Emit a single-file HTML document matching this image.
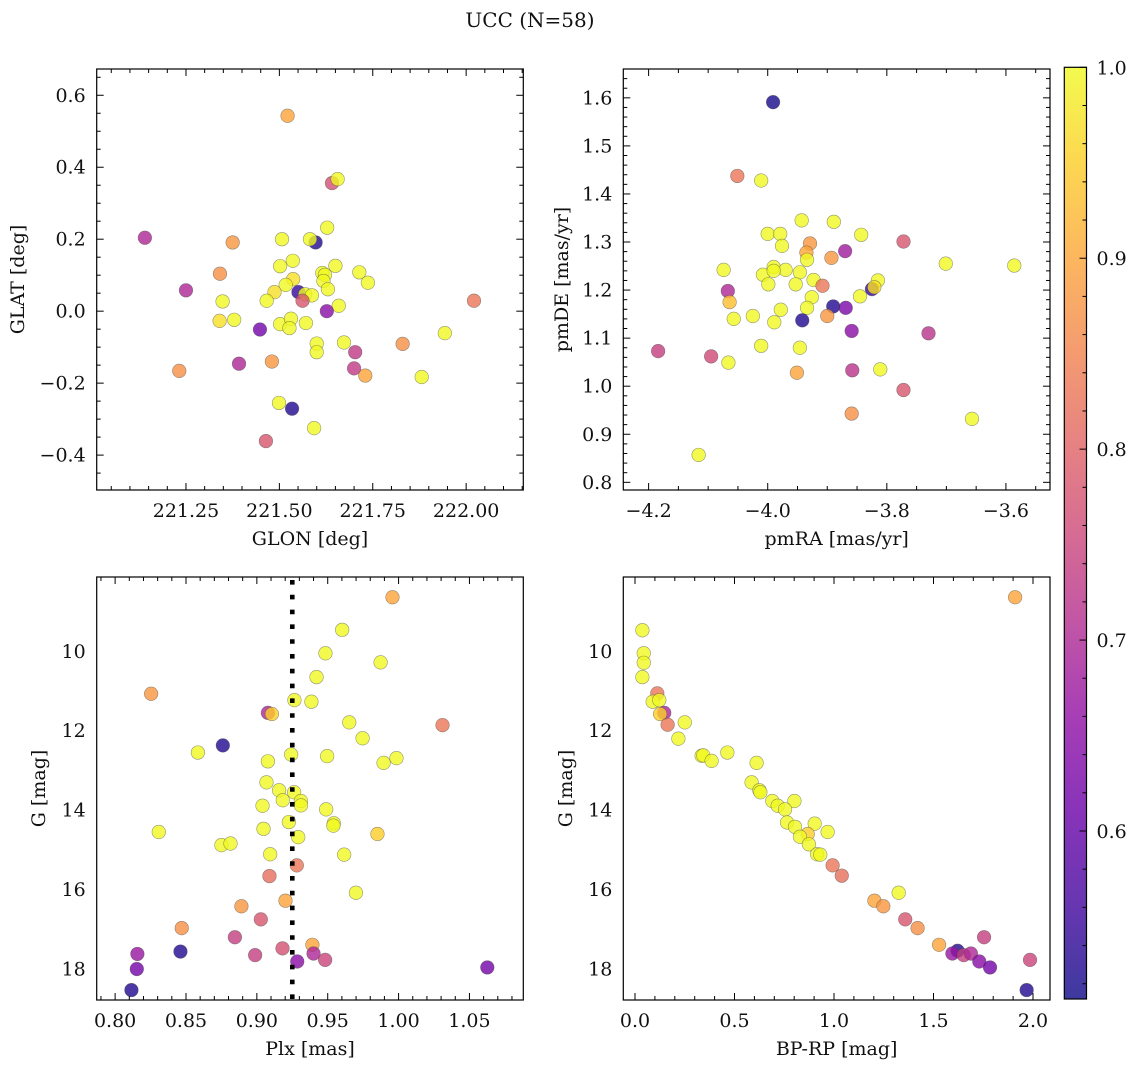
<!DOCTYPE html>
<html><head><meta charset="utf-8"><style>
html,body{margin:0;padding:0;background:#fff}
svg{display:block}
text{font-family:"DejaVu Serif","Liberation Serif",serif;fill:#111}
</style></head><body>
<svg id="fig" width="1136" height="1067" viewBox="0 0 1136 1067" xmlns="http://www.w3.org/2000/svg">
<defs>
<linearGradient id="plasma" x1="0" y1="1" x2="0" y2="0">
<stop offset="0" stop-color="#0d0887"/><stop offset="0.1" stop-color="#41049d"/><stop offset="0.2" stop-color="#6a00a8"/><stop offset="0.3" stop-color="#8f0da4"/><stop offset="0.4" stop-color="#b12a90"/><stop offset="0.5" stop-color="#cc4778"/><stop offset="0.6" stop-color="#e16462"/><stop offset="0.7" stop-color="#f2844b"/><stop offset="0.8" stop-color="#fca636"/><stop offset="0.9" stop-color="#fcce25"/><stop offset="1" stop-color="#f0f921"/>
</linearGradient>
</defs>
<text x="530" y="27" text-anchor="middle" font-size="20">UCC (N=58)</text>
</svg>
<script>
// Panel 1: GLON vs GLAT
const p1Lon=[221.522,221.641,221.656,221.628,221.140,221.375,221.507,221.597,221.582,221.536,221.502,221.650,221.341,221.615,221.622,221.714,221.737,221.537,221.618,221.250,221.517,221.487,221.630,221.551,221.569,221.587,221.562,222.021,221.348,221.466,221.659,221.627,221.340,221.379,221.502,221.531,221.527,221.571,221.448,221.943,221.600,221.600,221.673,221.830,221.703,221.392,221.480,221.232,221.700,221.730,221.881,221.499,221.534,221.593,221.464];
const p1Lat=[0.543,0.356,0.367,0.232,0.204,0.191,0.200,0.191,0.200,0.140,0.125,0.126,0.104,0.106,0.101,0.108,0.079,0.089,0.084,0.058,0.073,0.053,0.061,0.053,0.047,0.044,0.029,0.029,0.027,0.029,0.015,0.000,-0.027,-0.024,-0.036,-0.021,-0.047,-0.033,-0.051,-0.061,-0.090,-0.114,-0.087,-0.091,-0.114,-0.146,-0.140,-0.166,-0.159,-0.179,-0.183,-0.255,-0.271,-0.325,-0.361];
const p1Prob=[0.9,0.77,1,1,0.7,0.88,1,0.53,1,1,1,1,0.87,1,1,1,1,0.97,1,0.7,1,0.97,1,0.55,1,1,0.78,0.83,1,1,1,0.65,0.97,1,1,1,1,1,0.62,1,1,1,1,0.87,0.73,0.7,0.88,0.87,0.73,0.9,1,1,0.53,1,0.78];
// Panel 2: pmRA vs pmDE
const p2RA=[-3.991,-4.051,-4.011,-3.943,-3.889,-4.000,-3.979,-3.843,-3.772,-3.929,-3.976,-3.870,-3.935,-3.934,-3.893,-3.701,-3.586,-4.074,-3.990,-3.970,-4.008,-3.946,-3.990,-3.923,-3.815,-3.953,-3.999,-3.908,-3.825,-3.821,-4.067,-4.064,-3.926,-3.845,-3.890,-3.869,-3.934,-3.978,-4.025,-3.900,-4.057,-3.989,-3.942,-3.859,-3.730,-4.184,-4.011,-3.946,-4.095,-4.066,-3.951,-3.858,-3.811,-3.772,-3.859,-3.657,-4.116];
const p2DE=[1.591,1.4375,1.428,1.345,1.342,1.317,1.317,1.315,1.301,1.297,1.292,1.281,1.278,1.263,1.267,1.255,1.251,1.242,1.248,1.242,1.232,1.237,1.240,1.221,1.220,1.212,1.212,1.209,1.202,1.206,1.198,1.175,1.185,1.187,1.166,1.163,1.163,1.159,1.146,1.146,1.140,1.133,1.137,1.115,1.110,1.073,1.084,1.080,1.062,1.049,1.028,1.033,1.035,0.992,0.943,0.932,0.857];
const p2Prob=[0.52,0.83,1,1,1,1,1,1,0.78,0.88,1,0.68,0.9,1,0.88,1,1,1,1,1,1,1,1,1,1,1,1,0.83,0.55,0.97,0.7,0.93,1,1,0.53,0.63,1,1,1,0.88,1,1,0.53,0.65,0.72,0.74,1,1,0.76,1,0.9,0.72,1,0.78,0.87,1,1];
// Panel 3: Plx vs G
const p3Plx=[0.9957,0.9602,0.9484,0.9873,0.9421,0.8254,0.9265,0.9385,0.9078,0.9106,0.9652,1.031,0.9746,0.876,0.8584,0.9242,0.9496,0.9078,0.9985,0.9894,0.9068,0.9157,0.9263,0.9183,0.9311,0.904,0.9311,0.9489,0.9226,0.9543,0.954,0.9047,0.8308,0.9292,0.9851,0.875,0.8814,0.9094,0.9616,0.9282,0.9089,0.9699,0.9202,0.8891,0.9028,0.847,0.8845,0.9392,0.9181,0.8461,0.8157,0.94,0.8988,0.9482,0.9285,0.8153,1.0626,0.8115];
const p3G=[8.64,9.46,10.05,10.28,10.65,11.07,11.23,11.27,11.55,11.58,11.79,11.86,12.19,12.37,12.55,12.60,12.64,12.77,12.69,12.81,13.30,13.50,13.55,13.75,13.77,13.89,13.88,13.98,14.30,14.33,14.39,14.47,14.55,14.68,14.60,14.88,14.84,15.11,15.12,15.39,15.66,16.08,16.28,16.42,16.75,16.97,17.20,17.39,17.48,17.56,17.62,17.61,17.65,17.77,17.81,18.00,17.96,18.53];
const p3Prob=[0.9,1,1,1,1,0.88,1,1,0.7,0.95,1,0.83,1,0.53,1,1,1,1,1,1,1,1,1,1,1,1,1,1,1,1,1,1,1,1,0.95,1,1,1,1,0.83,0.82,1,0.9,0.88,0.78,0.87,0.74,0.9,0.77,0.53,0.67,0.7,0.74,0.75,0.65,0.62,0.62,0.53];
const plxRef=[0.925];
// Panel 4: BP-RP vs G
const p4BPRP=[1.910,0.037,0.044,0.044,0.037,0.112,0.089,0.122,0.147,0.126,0.164,0.250,0.218,0.335,0.343,0.385,0.464,0.611,0.586,0.625,0.630,0.690,0.717,0.801,0.754,0.764,0.804,0.903,0.868,0.829,0.968,0.874,0.915,0.931,0.993,1.039,1.325,1.203,1.248,1.358,1.420,1.754,1.528,1.621,1.595,1.652,1.688,1.730,1.985,1.784,1.968];
const p4G=[8.64,9.47,10.05,10.29,10.65,11.06,11.27,11.23,11.55,11.58,11.85,11.79,12.20,12.63,12.62,12.76,12.55,12.81,13.30,13.50,13.55,13.77,13.89,13.77,13.98,14.31,14.42,14.34,14.60,14.67,14.55,14.86,15.11,15.12,15.39,15.65,16.08,16.28,16.42,16.75,16.97,17.20,17.39,17.54,17.61,17.65,17.61,17.81,17.77,17.96,18.53];
const p4Prob=[0.9,1,1,1,1,0.83,1,1,0.7,0.95,0.83,1,1,1,1,1,1,1,1,1,1,1,1,1,1,1,1,1,0.95,1,1,1,1,1,0.83,0.82,1,0.9,0.88,0.78,0.87,0.74,0.9,0.53,0.67,0.74,0.7,0.65,0.75,0.62,0.53];
// tick labels
const p1XTicks=[221.25,221.50,221.75,222.00];
const p1YTicks=[-0.4,-0.2,0.0,0.2,0.4,0.6];
const p2XTicks=[-4.2,-4.0,-3.8,-3.6];
const p2YTicks=[0.8,0.9,1.0,1.1,1.2,1.3,1.4,1.5,1.6];
const p3XTicks=[0.80,0.85,0.90,0.95,1.00,1.05];
const gTicks=[10,12,14,16,18];
const p4XTicks=[0.0,0.5,1.0,1.5,2.0];
const cbTicks=[0.6,0.7,0.8,0.9,1.0];
const cbRange=[0.512,1.0];

const NS='http://www.w3.org/2000/svg';
const svg=document.getElementById('fig');
const FS=19;
function mk(tag,attrs,parent){const e=document.createElementNS(NS,tag);for(const k in attrs)e.setAttribute(k,attrs[k]);(parent||svg).appendChild(e);return e;}
const stops=[[13,8,135],[65,4,157],[106,0,168],[143,13,164],[177,42,144],[204,71,120],[225,100,98],[242,132,75],[252,166,54],[252,206,37],[240,249,33]];
function plasma(p){let t=(p-cbRange[0])/(cbRange[1]-cbRange[0]);t=Math.max(0,Math.min(1,t));const f=t*10,i=Math.min(9,Math.floor(f)),r=f-i;const a=stops[i],b=stops[i+1];return 'rgb('+a.map((v,k)=>Math.round(v+(b[k]-v)*r)).join(',')+')';}
function lin(d0,d1,r0,r1){return v=>r0+(v-d0)*(r1-r0)/(d1-d0);}

function panel(o){
  const g=mk('g',{});
  
  
  const sx=lin(o.xd[0],o.xd[1],o.L,o.R), sy=lin(o.yd[0],o.yd[1],o.B,o.T);
  const pg=mk('g',{},g);
  
  
  for(let i=0;i<o.xs.length;i++){
    const c=mk('circle',{cx:sx(o.xs[i]),cy:sy(o.ys[i]),r:6.8,fill:plasma(o.ps[i]),'fill-opacity':0.8,stroke:'rgba(70,70,70,0.55)','stroke-width':0.6},pg);
    
    
  }
  if(o.extra)o.extra(g,sx,sy);
  const tg=mk('g',{stroke:'#000','stroke-width':1},g);
  const eps=1e-9;
  for(let v=Math.ceil(o.xd[0]/o.xminor-eps)*o.xminor;v<=o.xd[1]+eps;v+=o.xminor){
    const x=sx(v),maj=o.xt.some(t=>Math.abs(t-v)<o.xminor/10),len=maj?7:4;
    mk('line',{x1:x,x2:x,y1:o.B,y2:o.B-len},tg);mk('line',{x1:x,x2:x,y1:o.T,y2:o.T+len},tg);
  }
  for(let v=Math.ceil(o.yd[0]/o.yminor-eps)*o.yminor;v<=o.yd[1]+eps;v+=o.yminor){
    const y=sy(v),maj=o.yt.some(t=>Math.abs(t-v)<o.yminor/10),len=maj?7:4;
    mk('line',{x1:o.L,x2:o.L+len,y1:y,y2:y},tg);mk('line',{x1:o.R,x2:o.R-len,y1:y,y2:y},tg);
  }
  mk('rect',{x:o.L,y:o.T,width:o.R-o.L,height:o.B-o.T,fill:'none',stroke:'#000','stroke-width':1.2},g);
  o.xt.forEach(t=>{const e=mk('text',{x:sx(t),y:o.B+27,'text-anchor':'middle','font-size':FS},g);e.textContent=o.fx(t);
    
    });
  o.yt.forEach(t=>{const e=mk('text',{x:o.L-11,y:sy(t)+6.5,'text-anchor':'end','font-size':FS},g);e.textContent=o.fy(t);
    
    });
  const xl=mk('text',{x:(o.L+o.R)/2,y:o.B+55,'text-anchor':'middle','font-size':FS},g);xl.textContent=o.xlabel;
  
  
  const yc=(o.T+o.B)/2;
  const yl=mk('text',{x:o.ylx,y:yc,'text-anchor':'middle','font-size':FS,transform:'rotate(-90 '+o.ylx+' '+yc+')'},g);yl.textContent=o.ylabel;
  
  
}
const minus=s=>s.replace('-','\u2212');
panel({name:'panel-glon-glat',L:96.7,R:523.3,T:69,B:490,xd:[221.011,222.153],yd:[-0.497,0.673],xs:p1Lon,ys:p1Lat,ps:p1Prob,xt:p1XTicks,yt:p1YTicks,xminor:0.05,yminor:0.05,fx:t=>t.toFixed(2),fy:t=>minus(t.toFixed(1)),xlabel:'GLON [deg]',ylabel:'GLAT [deg]',ylx:24});
panel({name:'panel-pm',L:623.3,R:1050,T:69,B:490,xd:[-4.2425,-3.526],yd:[0.784,1.660],xs:p2RA,ys:p2DE,ps:p2Prob,xt:p2XTicks,yt:p2YTicks,xminor:0.05,yminor:0.02,fx:t=>minus(t.toFixed(1)),fy:t=>t.toFixed(1),xlabel:'pmRA [mas/yr]',ylabel:'pmDE [mas/yr]',ylx:568});
panel({name:'panel-plx-g',L:96.7,R:523.3,T:577,B:1000,xd:[0.787,1.088],yd:[18.78,8.13],xs:p3Plx,ys:p3G,ps:p3Prob,xt:p3XTicks,yt:gTicks,xminor:0.01,yminor:0.5,fx:t=>t.toFixed(2),fy:t=>String(t),xlabel:'Plx [mas]',ylabel:'G [mag]',ylx:45,
  extra:(g,sx,sy)=>{const l=mk('line',{x1:sx(plxRef[0]),x2:sx(plxRef[0]),y1:580,y2:1000,stroke:'#000','stroke-width':4.6,'stroke-dasharray':'4.6 10.2'},g);
    
    }});
panel({name:'panel-cmd',L:623.3,R:1050,T:577,B:1000,xd:[-0.0588,2.0854],yd:[18.78,8.13],xs:p4BPRP,ys:p4G,ps:p4Prob,xt:p4XTicks,yt:gTicks,xminor:0.1,yminor:0.5,fx:t=>t.toFixed(1),fy:t=>String(t),xlabel:'BP-RP [mag]',ylabel:'G [mag]',ylx:572});

const cb=mk('g',{});


const cT=67.3,cB=999,cL=1064.3,cR=1086.5;
const cy=lin(cbRange[0],cbRange[1],cB,cT);
mk('rect',{x:cL,y:cT,width:cR-cL,height:cB-cT,fill:'url(#plasma)','fill-opacity':0.8},cb);
for(let v=0.52;v<=1.0001;v+=0.02){const y=cy(v),maj=cbTicks.some(t=>Math.abs(t-v)<0.005);mk('line',{x1:cR,x2:cR-(maj?7:4),y1:y,y2:y,stroke:'#000','stroke-width':1},cb);}
mk('rect',{x:cL,y:cT,width:cR-cL,height:cB-cT,fill:'none',stroke:'#000','stroke-width':1.2},cb);
cbTicks.forEach(t=>{const e=mk('text',{x:cR+10,y:cy(t)+7,'font-size':FS},cb);e.textContent=t.toFixed(1);
  
  });
</script>
</body></html>
